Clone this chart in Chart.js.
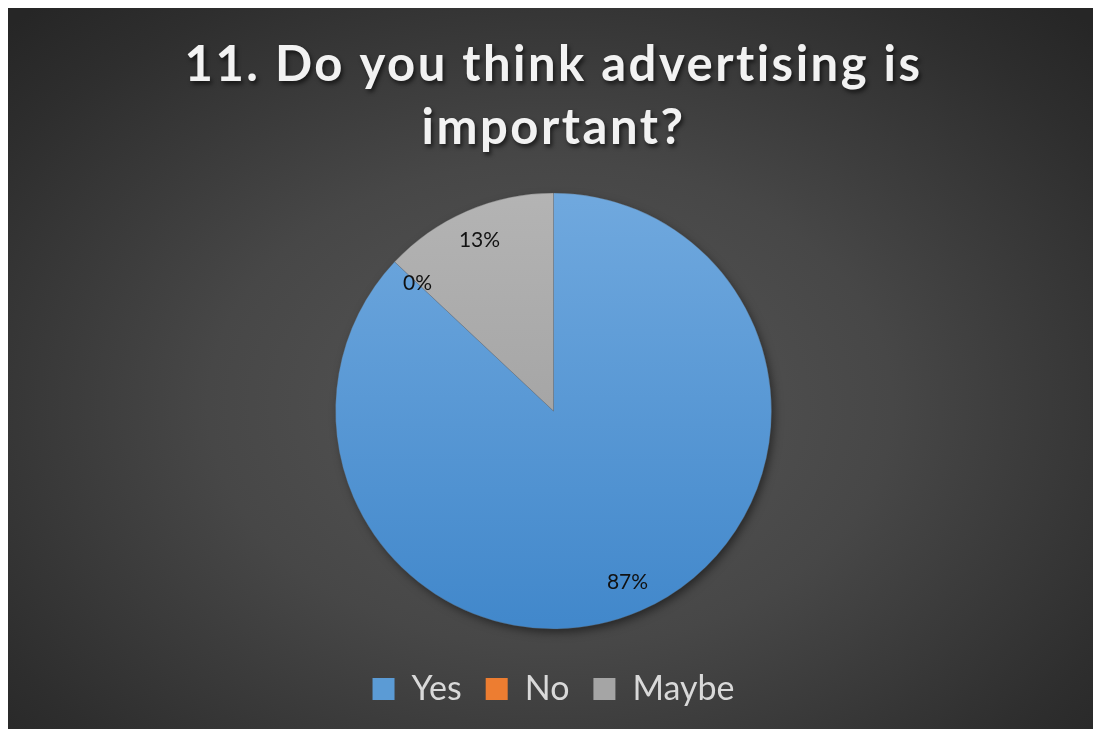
<!DOCTYPE html>
<html>
<head>
<meta charset="utf-8">
<title>Advertising survey</title>
<script src="https://cdn.jsdelivr.net/npm/chart.js@4.4.1/dist/chart.umd.min.js"></script>
<style>
  html, body { margin: 0; padding: 0; background: #ffffff; }
  #panel {
    position: absolute; left: 8px; top: 8px; width: 1085px; height: 721px;
    background: radial-gradient(ellipse 70% 75% at 50% 55%, #575757 0%, #474747 45%, #2e2e2e 85%, #262626 100%);
  }
</style>
</head>
<body>
<div id="panel"><canvas id="chart"></canvas></div>
<script>
// Survey question and answers
const titleLines = ['11. Do you think advertising is', 'important?'];
const categories = ['Yes', 'No', 'Maybe'];
const shares = [87, 0, 13];            // percent of respondents
const swatchColors = ['#5b9bd5', '#ed7d31', '#a5a5a5'];
const sliceTop = ['#72aadf', '#f4a065', '#b5b5b5'];
const sliceBottom = ['#3f86ca', '#e46c1c', '#969696'];

// Vertical shading of each slice across the chart area
function sliceFill(ctx) {
  const area = ctx.chart.chartArea;
  if (!area) return sliceTop[ctx.dataIndex];
  const g = ctx.chart.ctx.createLinearGradient(0, area.top, 0, area.bottom);
  g.addColorStop(0, sliceTop[ctx.dataIndex]);
  g.addColorStop(1, sliceBottom[ctx.dataIndex]);
  return g;
}

// Soft drop shadow under the whole pie
const pieShadow = {
  id: 'pieShadow',
  beforeDatasetsDraw(chart) {
    const arc = chart.getDatasetMeta(0).data[0];
    if (!arc) return;
    const p = arc.getProps(['x', 'y', 'outerRadius'], true);
    const ctx = chart.ctx;
    ctx.save();
    ctx.shadowColor = 'rgba(0,0,0,0.5)';
    ctx.shadowBlur = 10;
    ctx.shadowOffsetX = 3;
    ctx.shadowOffsetY = 4;
    ctx.fillStyle = '#4a8ad0';
    ctx.beginPath();
    ctx.arc(p.x, p.y, p.outerRadius - 1, 0, Math.PI * 2);
    ctx.fill();
    ctx.restore();
  }
};

// Percentage labels placed inside each slice
const sliceLabels = {
  id: 'sliceLabels',
  afterDatasetsDraw(chart) {
    const ctx = chart.ctx;
    const meta = chart.getDatasetMeta(0);
    ctx.save();
    ctx.font = '21px Lato';
    ctx.fillStyle = '#111111';
    ctx.textAlign = 'center';
    ctx.textBaseline = 'middle';
    meta.data.forEach((arc, i) => {
      const p = arc.getProps(['x', 'y', 'startAngle', 'endAngle', 'outerRadius'], true);
      const mid = (p.startAngle + p.endAngle) / 2;
      const r = p.outerRadius * 0.855;
      ctx.fillText(shares[i] + '%', p.x + Math.cos(mid) * r, p.y + Math.sin(mid) * r);
    });
    ctx.restore();
  }
};

// Spaced, shadowed title lettering
const titleStyle = {
  id: 'titleStyle',
  afterInit(chart) {
    const block = chart.titleBlock;
    if (!block) return;
    const draw = block.draw.bind(block);
    block.draw = function () {
      const ctx = chart.ctx;
      ctx.save();
      ctx.letterSpacing = '2.5px';
      ctx.shadowColor = 'rgba(0,0,0,0.6)';
      ctx.shadowBlur = 4;
      ctx.shadowOffsetX = 2;
      ctx.shadowOffsetY = 3;
      draw();
      ctx.restore();
    };
  }
};

new Chart(document.getElementById('chart'), {
  type: 'pie',
  data: {
    labels: categories,
    datasets: [{
      data: shares,
      backgroundColor: sliceFill,
      borderColor: 'rgba(90,90,90,0.55)',
      borderWidth: 0.6,
      radius: 218
    }]
  },
  options: {
    responsive: true,
    maintainAspectRatio: false,
    animation: false,
    layout: { padding: { left: 6, right: 0, top: 0, bottom: 13 } },
    plugins: {
      tooltip: { enabled: false },
      title: {
        display: true,
        text: titleLines,
        color: '#f2f2f2',
        font: { family: 'Lato', size: 49, weight: 'bold', lineHeight: '63px' },
        padding: { top: 26, bottom: 14 }
      },
      legend: {
        position: 'bottom',
        labels: {
          color: '#d9d9d9',
          font: { family: 'Lato', size: 34 },
          boxWidth: 22,
          boxHeight: 22,
          padding: 24,
          generateLabels: (chart) => categories.map((name, i) => ({
            text: name,
            fillStyle: swatchColors[i],
            strokeStyle: swatchColors[i],
            lineWidth: 0,
            fontColor: '#d9d9d9',
            hidden: false,
            index: i
          }))
        }
      }
    }
  },
  plugins: [pieShadow, sliceLabels, titleStyle]
});
</script>
</body>
</html>
